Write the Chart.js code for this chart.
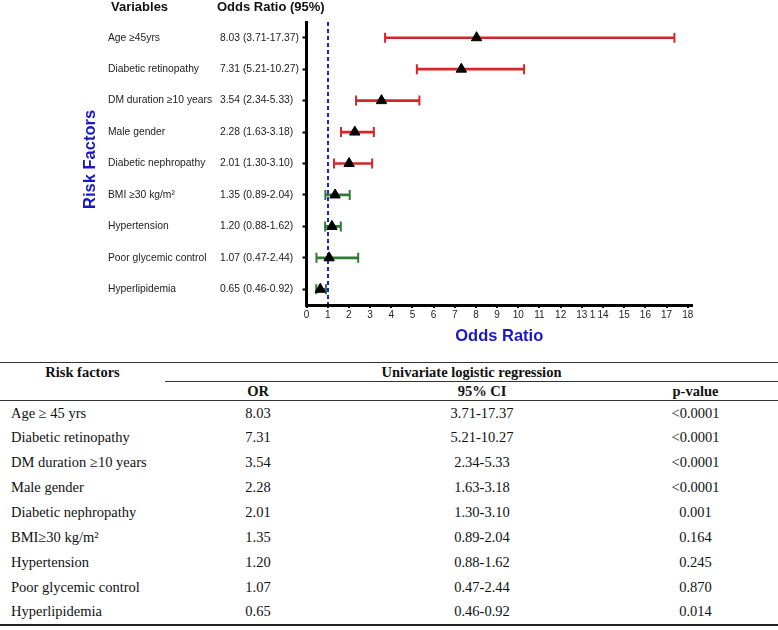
<!DOCTYPE html>
<html>
<head>
<meta charset="utf-8">
<script src="https://cdn.jsdelivr.net/npm/chart.js@4.4.0/dist/chart.umd.min.js"></script>
<style>
  body { margin: 0; background: #fff; }
  #wrap { position: absolute; left: 0; top: 0; width: 778px; height: 356px; }
  #tbl {
    position: absolute; left: 0; top: 362px; width: 778px;
    border-collapse: collapse; table-layout: fixed;
    font-family: 'Liberation Serif', 'Times New Roman', serif;
    font-size: 14.5px; color: #111;
    border-top: 1px solid #333;
  }
  #tbl th, #tbl td { padding: 0; text-align: center; white-space: nowrap; }
  #tbl tr.h1 { height: 19px; }
  #tbl tr.h2 { height: 19px; border-bottom: 1px solid #333; }
  #tbl th.uni { border-bottom: 1px solid #333; }
  #tbl tbody tr { height: 24.9px; }
  #tbl tbody tr:last-child { border-bottom: 2px solid #222; }
  #tbl td.name { text-align: left; padding-left: 11px; }
</style>
</head>
<body>
<div id="wrap"><canvas id="myChart" width="778" height="356"></canvas></div>
<table id="tbl">
  <colgroup><col style="width:165px"><col style="width:186px"><col style="width:262px"><col style="width:165px"></colgroup>
  <thead>
    <tr class="h1"><th>Risk factors</th><th colspan="3" class="uni">Univariate logistic regression</th></tr>
    <tr class="h2"><th></th><th>OR</th><th>95% CI</th><th>p-value</th></tr>
  </thead>
  <tbody id="rows"></tbody>
</table>
<script>
const chartNames = ['Age ≥45yrs', 'Diabetic retinopathy', 'DM duration ≥10 years', 'Male gender',
    'Diabetic nephropathy', 'BMI ≥30 kg/m²', 'Hypertension', 'Poor glycemic control', 'Hyperlipidemia'];
const tableNames = ['Age ≥ 45 yrs', 'Diabetic retinopathy', 'DM duration ≥10 years', 'Male gender',
    'Diabetic nephropathy', 'BMI≥30 kg/m²', 'Hypertension', 'Poor glycemic control', 'Hyperlipidemia'];
const oddsRatio = [8.03, 7.31, 3.54, 2.28, 2.01, 1.35, 1.20, 1.07, 0.65];
const ciLow = [3.71, 5.21, 2.34, 1.63, 1.30, 0.89, 0.88, 0.47, 0.46];
const ciHigh = [17.37, 10.27, 5.33, 3.18, 3.10, 2.04, 1.62, 2.44, 0.92];
const pValues = ['<0.0001', '<0.0001', '<0.0001', '<0.0001', '0.001', '0.164', '0.245', '0.870', '0.014'];
const xTickValues = [0, 1, 2, 3, 4, 5, 6, 7, 8, 9, 10, 11, 12, 13, 13.5, 14, 15, 16, 17, 18];
const xTickLabels = ['0', '1', '2', '3', '4', '5', '6', '7', '8', '9', '10', '11', '12', '13', '1', '14', '15', '16', '17', '18'];

const RED = '#d42626';
const GREEN = '#2e7a34';
const BLUE = '#1f1fe0';
const TITLE_BLUE = '#1818c8';
const NONE = 'rgba(0,0,0,0)';
const rowColors = chartNames.map((n, i) => i < 5 ? RED : GREEN);
const f2 = v => v.toFixed(2);
const orText = oddsRatio.map((v, i) => f2(v) + ' (' + f2(ciLow[i]) + '-' + f2(ciHigh[i]) + ')');

// table below the chart
const tbody = document.getElementById('rows');
tableNames.forEach((n, i) => {
    const tr = document.createElement('tr');
    [n, f2(oddsRatio[i]), f2(ciLow[i]) + '-' + f2(ciHigh[i]), pValues[i]].forEach((t, j) => {
        const td = document.createElement('td');
        td.textContent = t;
        if (j === 0) td.className = 'name';
        tr.appendChild(td);
    });
    tbody.appendChild(tr);
});

const SANS = '"Liberation Sans", Arial, sans-serif';

const headerPlugin = {
    id: 'headers',
    afterDraw(chart) {
        const ctx = chart.ctx;
        ctx.save();
        ctx.font = 'bold 13px ' + SANS;
        ctx.fillStyle = '#111';
        ctx.textBaseline = 'middle';
        ctx.fillText('Variables', chart.scales.yn.left + 3, 7);
        ctx.fillText('Odds Ratio (95%)', chart.scales.y.left - 3, 7);
        ctx.restore();
    }
};

var ctx = document.getElementById('myChart');
var myChart = new Chart(ctx, {
    type: 'bar',
    data: {
        labels: chartNames,
        datasets: [
            {
                type: 'line',
                indexAxis: 'y',
                data: oddsRatio,
                showLine: false,
                pointStyle: 'triangle',
                pointRadius: 6,
                pointBackgroundColor: '#000',
                pointBorderColor: '#000',
                pointBorderWidth: 1,
                order: 0
            },
            {
                type: 'line',
                indexAxis: 'y',
                data: ciLow,
                showLine: false,
                pointStyle: 'line',
                rotation: 90,
                pointRadius: 5,
                pointBorderWidth: 2,
                pointBorderColor: rowColors,
                order: 1
            },
            {
                type: 'line',
                indexAxis: 'y',
                data: ciHigh,
                showLine: false,
                pointStyle: 'line',
                rotation: 90,
                pointRadius: 5,
                pointBorderWidth: 2,
                pointBorderColor: rowColors,
                order: 1
            },
            {
                type: 'bar',
                indexAxis: 'y',
                data: ciLow.map((l, i) => [l, ciHigh[i]]),
                backgroundColor: rowColors,
                borderWidth: 0,
                barThickness: 2,
                order: 2
            }
        ]
    },
    plugins: [headerPlugin],
    options: {
        indexAxis: 'y',
        responsive: false,
        animation: false,
        layout: { padding: { top: 22, right: 86, left: 70, bottom: 0 } },
        plugins: {
            legend: { display: false },
            tooltip: { enabled: false }
        },
        scales: {
            x: {
                type: 'linear',
                position: 'bottom',
                min: 0,
                max: 18.2,
                afterBuildTicks: s => { s.ticks = xTickValues.map(v => ({ value: v })); },
                afterFit: s => { s.height = 51; },
                ticks: {
                    autoSkip: false,
                    maxRotation: 0,
                    padding: 1,
                    color: '#222',
                    font: { size: 10, family: SANS },
                    callback: v => xTickLabels[xTickValues.indexOf(v)]
                },
                grid: {
                    color: c => (c.tick && c.tick.value === 1) ? BLUE : NONE,
                    lineWidth: 2,
                    tickLength: 3,
                    tickWidth: 2,
                    tickColor: c => (c.tick && c.tick.value === 13.5) ? NONE : '#000'
                },
                border: { display: true, color: '#000', width: 3, dash: [4, 3] },
                title: {
                    display: true,
                    text: 'Odds Ratio',
                    color: TITLE_BLUE,
                    font: { size: 16.5, weight: 'bold', family: SANS },
                    padding: { top: 0, bottom: 10 }
                }
            },
            y: {
                type: 'category',
                position: 'left',
                weight: 1,
                labels: orText,
                offset: true,
                afterFit: s => { s.width = 86.5; },
                ticks: { crossAlign: 'far', color: '#222', font: { size: 10.3, family: SANS } },
                grid: { offset: false, drawOnChartArea: false, tickLength: 4, tickWidth: 2, tickColor: '#000', color: '#000' },
                border: { display: true, color: '#000', width: 3 }
            },
            yn: {
                type: 'category',
                position: 'left',
                weight: 2,
                labels: chartNames,
                offset: true,
                afterFit: s => { s.width = 112; },
                ticks: { crossAlign: 'far', color: '#222', font: { size: 10.3, family: SANS } },
                grid: { display: false },
                border: { display: false }
            },
            yt: {
                type: 'category',
                position: 'left',
                weight: 3,
                labels: chartNames,
                offset: true,
                afterFit: s => { s.width = 38; },
                ticks: { display: false },
                grid: { display: false },
                border: { display: false },
                title: {
                    display: true,
                    text: '\u2002Risk Factors',
                    color: TITLE_BLUE,
                    font: { size: 16.5, weight: 'bold', family: SANS },
                    padding: { top: 11, bottom: 0 }
                }
            }
        }
    }
});
</script>
</body>
</html>
